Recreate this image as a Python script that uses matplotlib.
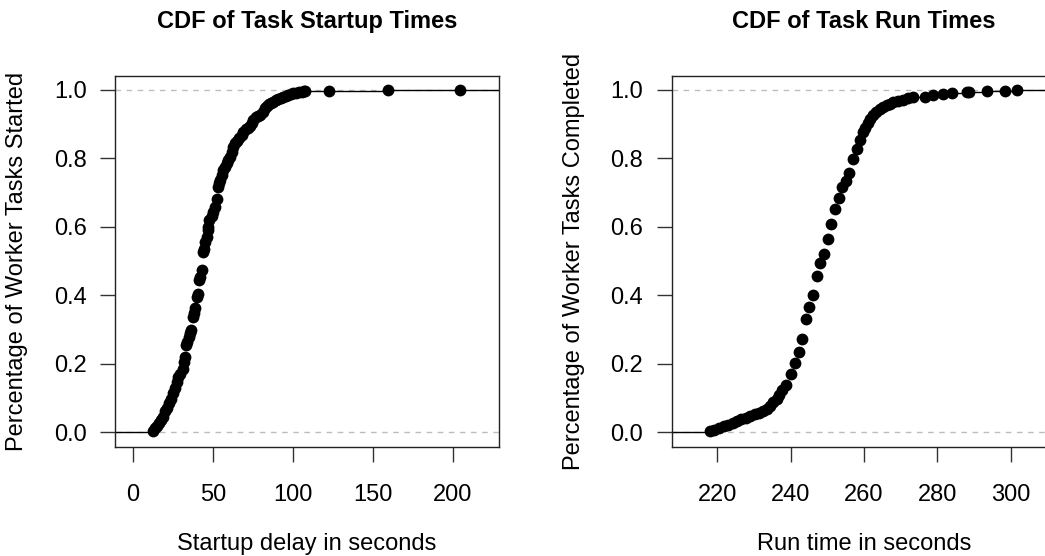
import numpy as np
import matplotlib.pyplot as plt

plt.rcParams['font.family'] = ['Liberation Sans', 'DejaVu Sans']

# ecdf points (startup delay in s, cumulative fraction)
startup_x = [12.9, 14.0, 15.2, 16.4, 17.6, 18.8, 20.2, 21.5, 22.8, 24.0, 25.4, 26.4, 27.5, 28.5,
             29.6, 31.2, 32.1, 32.7, 33.3, 34.0, 35.0, 35.8, 36.6, 37.9, 38.4, 38.9, 40.4, 41.0,
             41.6, 42.2, 43.1, 44.1, 44.6, 45.4, 46.2, 46.8, 47.3, 47.8, 49.4, 50.4, 51.4, 52.5,
             53.2, 53.8, 54.8, 55.7, 56.6, 57.6, 58.7, 59.8, 60.8, 61.8, 62.9, 63.9, 65.0, 66.5,
             68.1, 69.1, 70.6, 72.0, 73.3, 74.5, 75.4, 76.8, 78.0, 79.6, 81.6, 82.8, 84.0, 85.4,
             86.7, 87.9, 89.5, 91.0, 92.6, 94.1, 95.7, 97.3, 98.8, 100.4, 102.0, 103.8, 105.6,
             106.8, 107.7, 122.9, 159.8, 204.6]
startup_y = [0.005, 0.012, 0.020, 0.028, 0.037, 0.046, 0.062, 0.072, 0.085, 0.097, 0.114, 0.130,
             0.146, 0.162, 0.172, 0.185, 0.205, 0.221, 0.255, 0.265, 0.278, 0.289, 0.300, 0.336,
             0.348, 0.362, 0.396, 0.405, 0.445, 0.455, 0.474, 0.527, 0.537, 0.555, 0.571, 0.590,
             0.600, 0.620, 0.632, 0.645, 0.659, 0.683, 0.716, 0.727, 0.738, 0.752, 0.766, 0.776,
             0.786, 0.796, 0.805, 0.818, 0.834, 0.844, 0.852, 0.860, 0.868, 0.877, 0.885, 0.890,
             0.895, 0.903, 0.912, 0.920, 0.924, 0.928, 0.936, 0.946, 0.952, 0.958, 0.962, 0.966,
             0.970, 0.973, 0.977, 0.980, 0.983, 0.985, 0.988, 0.990, 0.992, 0.993, 0.995, 0.996,
             0.997, 0.998, 0.999, 1.000]

# run time in s, cumulative fraction
run_x = [218.0, 219.2, 220.5, 221.8, 223.0, 224.2, 225.4, 226.6, 227.8, 229.0, 230.2, 231.4,
         232.5, 233.5, 234.4, 235.2, 236.2, 236.8, 237.6, 238.9, 240.0, 241.1, 242.2, 243.1,
         244.2, 245.1, 246.0, 247.1, 248.1, 249.2, 250.1, 250.9, 252.1, 253.1, 254.1, 255.0,
         256.0, 257.1, 258.2, 258.9, 259.8, 260.4, 261.0, 261.7, 262.5, 263.4, 264.3, 265.3,
         266.2, 267.1, 268.0, 269.3, 270.7, 272.0, 273.4, 276.6, 278.9, 281.6, 283.9, 288.0,
         288.7, 293.6, 298.5, 301.7]
run_y = [0.003, 0.008, 0.013, 0.018, 0.023, 0.028, 0.033, 0.038, 0.043, 0.048, 0.053, 0.058,
         0.063, 0.070, 0.078, 0.088, 0.097, 0.108, 0.124, 0.140, 0.172, 0.203, 0.234, 0.274,
         0.330, 0.367, 0.400, 0.456, 0.494, 0.521, 0.564, 0.610, 0.651, 0.684, 0.716, 0.733,
         0.758, 0.798, 0.827, 0.854, 0.876, 0.890, 0.903, 0.915, 0.927, 0.936, 0.944, 0.951,
         0.956, 0.960, 0.964, 0.968, 0.972, 0.975, 0.978, 0.980, 0.985, 0.987, 0.990, 0.993,
         0.994, 0.996, 0.998, 1.000]

panels = [
    dict(x=startup_x, y=startup_y, xlim=(-11.1, 228.9), xticks=[0, 50, 100, 150, 200],
         title='CDF of Task Startup Times', xlabel='Startup delay in seconds',
         ylabel='Percentage of Worker Tasks Started', left=115.0),
    dict(x=run_x, y=run_y, xlim=(207.6, 312.3), xticks=[220, 240, 260, 280, 300],
         title='CDF of Task Run Times', xlabel='Run time in seconds',
         ylabel='Percentage of Worker Tasks Completed', left=671.7),
]

W, H = 1045, 556
fig = plt.figure(figsize=(W / 100, H / 100), dpi=100)
fs = 17

for p in panels:
    ax = fig.add_axes([p['left'] / W, (H - 446.7) / H, 384 / W, 371 / H])
    x = np.array(p['x'])
    y = np.array(p['y'])
    x0, x1 = p['xlim']
    ax.set_xlim(x0, x1)
    ax.set_ylim(-0.0415, 1.0415)

    # reference lines at 0 and 1
    for h in (0, 1):
        ax.axhline(h, color='#bdbdbd', lw=1, ls=(0, (4, 4)), zorder=1)

    # horizontal steps of the ecdf
    starts = np.concatenate([[x0], x])
    ends = np.concatenate([x, [x1]])
    levels = np.concatenate([[0], y])
    ax.hlines(levels, starts, ends, color='black', lw=1, zorder=2)
    ax.plot(x, y, 'o', color='black', ms=8.5, mew=0, zorder=3)

    ax.set_xticks(p['xticks'])
    ax.set_yticks([0, 0.2, 0.4, 0.6, 0.8, 1.0])
    ax.set_yticklabels(['0.0', '0.2', '0.4', '0.6', '0.8', '1.0'])
    ax.tick_params(direction='out', length=10.5, width=1, labelsize=fs, pad=10, color='#333333')
    ax.tick_params(axis='x', pad=16)
    for s in ax.spines.values():
        s.set_linewidth(1)
        s.set_color('#222222')

    ax.text(0.5, 1.145, p['title'], transform=ax.transAxes, ha='center', va='center',
            fontsize=17, fontweight='bold')
    ax.set_xlabel(p['xlabel'], fontsize=fs)
    ax.xaxis.set_label_coords(0.5, -0.262)
    ax.xaxis.label.set_va('center')
    ax.set_ylabel(p['ylabel'], fontsize=fs)
    ax.yaxis.set_label_coords(-0.255, 0.5)
    ax.yaxis.label.set_va('center')

fig.savefig('out.png', dpi=100)
